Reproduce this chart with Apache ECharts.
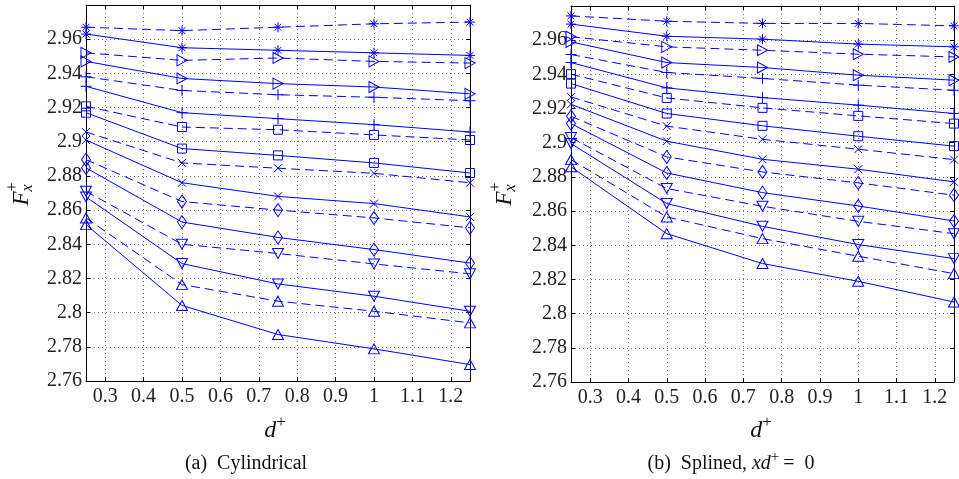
<!DOCTYPE html>
<html>
<head>
<meta charset="utf-8">
<script src="https://cdn.jsdelivr.net/npm/echarts@6/dist/echarts.min.js"></script>
<style>
html,body{margin:0;padding:0;background:#fff;}
#main{width:959px;height:479px;}
</style>
</head>
<body>
<div id="main"></div>
<script>
// ---- data ----
const dPlus = [0.25, 0.5, 0.75, 1.0, 1.25];
const yTickMin = 2.76, yTickMax = 2.98, yStep = 0.02;
const xTickMin = 0.25, xTickMax = 1.25, xStep = 0.1;

// (a) Cylindrical
const cylStarDash    = [2.967, 2.965, 2.967, 2.969, 2.970];
const cylStarSolid   = [2.963, 2.955, 2.9535, 2.952, 2.9505];
const cylTriRDash    = [2.952, 2.9476, 2.949, 2.947, 2.946];
const cylTriRSolid   = [2.947, 2.937, 2.934, 2.932, 2.928];
const cylPlusDash    = [2.938, 2.930, 2.9275, 2.926, 2.924];
const cylPlusSolid   = [2.9324, 2.917, 2.9135, 2.910, 2.9057];
const cylSqDash      = [2.9207, 2.9086, 2.907, 2.904, 2.901];
const cylSqSolid     = [2.917, 2.896, 2.892, 2.8876, 2.8817];
const cylXDash       = [2.9057, 2.8876, 2.8845, 2.8815, 2.876];
const cylXSolid      = [2.901, 2.876, 2.868, 2.8638, 2.856];
const cylDiaDash     = [2.8895, 2.865, 2.860, 2.8554, 2.8496];
const cylDiaSolid    = [2.8847, 2.853, 2.844, 2.8369, 2.829];
const cylTriDDash    = [2.871, 2.840, 2.8346, 2.8285, 2.8227];
const cylTriDSolid   = [2.8677, 2.8287, 2.8168, 2.8096, 2.8008];
const cylTriUDash    = [2.8554, 2.8164, 2.8067, 2.8008, 2.794];
const cylTriUSolid   = [2.8515, 2.8042, 2.7872, 2.7788, 2.7696];

// (b) Splined, xd+ = 0
const splStarDash    = [2.9742, 2.9711, 2.9698, 2.9698, 2.9684];
const splStarSolid   = [2.9694, 2.9623, 2.9606, 2.9577, 2.9561];
const splTriRDash    = [2.962, 2.9561, 2.9541, 2.9518, 2.9502];
const splTriRSolid   = [2.959, 2.9469, 2.944, 2.9395, 2.9366];
const splPlusDash    = [2.9516, 2.9411, 2.9376, 2.9337, 2.9307];
const splPlusSolid   = [2.9469, 2.9321, 2.9264, 2.922, 2.9171];
const splSqDash      = [2.9401, 2.9262, 2.9204, 2.9157, 2.9112];
const splSqSolid     = [2.9346, 2.9171, 2.9099, 2.9038, 2.898];
const splXDash       = [2.9268, 2.9097, 2.902, 2.8962, 2.8901];
const splXSolid      = [2.9225, 2.9009, 2.8903, 2.8845, 2.8771];
const splDiaDash     = [2.9155, 2.8917, 2.8829, 2.8765, 2.8693];
const splDiaSolid    = [2.9112, 2.8823, 2.8708, 2.863, 2.8542];
const splTriDDash    = [2.903, 2.8732, 2.8628, 2.854, 2.8468];
const splTriDSolid   = [2.8995, 2.8644, 2.8511, 2.8404, 2.8322];
const splTriUDash    = [2.8901, 2.8566, 2.8439, 2.8336, 2.8234];
const splTriUSolid   = [2.8859, 2.8468, 2.8293, 2.8189, 2.8068];

const subCaptionA = '(a)  Cylindrical';

// ---- styles ----
const BLUE = '#0000ff';
const SYM = {
  star:  {symbol: 'path://M5,0L5,10M0,5L10,5M1.6,1.6L8.4,8.4M1.6,8.4L8.4,1.6', size: [10, 10]},
  triR:  {symbol: 'path://M0,0L10,5L0,10Z', size: [10, 11]},
  plus:  {symbol: 'path://M5,0L5,10M0,5L10,5', size: [11, 11]},
  sq:    {symbol: 'path://M0,0L10,0L10,10L0,10Z', size: [9, 9]},
  x:     {symbol: 'path://M0,0L10,10M0,10L10,0', size: [8, 8]},
  dia:   {symbol: 'path://M5,0L10,5L5,10L0,5Z', size: [9, 13]},
  triD:  {symbol: 'path://M0,0L10,0L5,9Z', size: [11, 10]},
  triU:  {symbol: 'path://M5,0L10,9L0,9Z', size: [11, 10]}
};

const cylSets = [
  ['star', cylStarDash, true], ['star', cylStarSolid, false],
  ['triR', cylTriRDash, true], ['triR', cylTriRSolid, false],
  ['plus', cylPlusDash, true], ['plus', cylPlusSolid, false],
  ['sq', cylSqDash, true], ['sq', cylSqSolid, false],
  ['x', cylXDash, true], ['x', cylXSolid, false],
  ['dia', cylDiaDash, true], ['dia', cylDiaSolid, false],
  ['triD', cylTriDDash, true], ['triD', cylTriDSolid, false],
  ['triU', cylTriUDash, true], ['triU', cylTriUSolid, false]
];
const splSets = [
  ['star', splStarDash, true], ['star', splStarSolid, false],
  ['triR', splTriRDash, true], ['triR', splTriRSolid, false],
  ['plus', splPlusDash, true], ['plus', splPlusSolid, false],
  ['sq', splSqDash, true], ['sq', splSqSolid, false],
  ['x', splXDash, true], ['x', splXSolid, false],
  ['dia', splDiaDash, true], ['dia', splDiaSolid, false],
  ['triD', splTriDDash, true], ['triD', splTriDSolid, false],
  ['triU', splTriUDash, true], ['triU', splTriUSolid, false]
];

function mkSeries(sets, axisIdx) {
  return sets.map(function (s) {
    const sym = SYM[s[0]];
    return {
      type: 'line',
      xAxisIndex: axisIdx, yAxisIndex: axisIdx,
      data: dPlus.map(function (d, k) { return [d, s[1][k]]; }),
      symbol: sym.symbol, symbolSize: sym.size,
      showAllSymbol: true, clip: false, silent: true, animation: false,
      lineStyle: {color: BLUE, width: 1, type: s[2] ? [9, 5] : 'solid'},
      itemStyle: {color: 'rgba(0,0,0,0)', borderColor: BLUE, borderWidth: 1},
      z: 3
    };
  });
}

const FONT = 'Liberation Serif';
const GRIDS = [
  {left: 86, top: 5, width: 384, height: 376},
  {left: 571, top: 6, width: 383, height: 376}
];

function xAxisMain(gi) {
  return {
    type: 'value', gridIndex: gi, position: 'bottom',
    min: xTickMin, max: xTickMax, splitNumber: 10, minInterval: xStep, maxInterval: xStep,
    axisLine: {show: true, lineStyle: {color: '#000', width: 1}},
    axisTick: {show: true, inside: true, length: 4, lineStyle: {color: '#000'}},
    axisLabel: {show: true, margin: 6, fontFamily: FONT, fontSize: 20, color: '#222',
      showMinLabel: false, showMaxLabel: false},
    splitLine: {show: true, lineStyle: {color: '#777', type: [1, 3], width: 1}}
  };
}
function xAxisTop(gi) {
  return {
    type: 'value', gridIndex: gi, position: 'top',
    min: xTickMin, max: xTickMax, splitNumber: 10, minInterval: xStep, maxInterval: xStep,
    axisLine: {show: true, onZero: false, lineStyle: {color: '#000', width: 1}},
    axisTick: {show: true, inside: true, length: 4, lineStyle: {color: '#000'}},
    axisLabel: {show: false}, splitLine: {show: false}
  };
}
function yAxisMain(gi) {
  return {
    type: 'value', gridIndex: gi, position: 'left',
    min: yTickMin, max: yTickMax, splitNumber: 11, minInterval: yStep, maxInterval: yStep,
    axisLine: {show: true, lineStyle: {color: '#000', width: 1}},
    axisTick: {show: true, inside: true, length: 4, lineStyle: {color: '#000'}},
    axisLabel: {show: true, margin: 4, fontFamily: FONT, fontSize: 20, color: '#222',
      showMaxLabel: false},
    splitLine: {show: true, lineStyle: {color: '#777', type: [1, 3], width: 1}}
  };
}
function yAxisRight(gi) {
  return {
    type: 'value', gridIndex: gi, position: 'right',
    min: yTickMin, max: yTickMax, splitNumber: 11, minInterval: yStep, maxInterval: yStep,
    axisLine: {show: true, onZero: false, lineStyle: {color: '#000', width: 1}},
    axisTick: {show: true, inside: true, length: 4, lineStyle: {color: '#000'}},
    axisLabel: {show: false}, splitLine: {show: false}
  };
}

// text runs with sub/superscripts, measured via canvas
const measureCtx = document.createElement('canvas').getContext('2d');
function textRun(cx, cy, runs, rotation) {
  const widths = runs.map(function (r) {
    measureCtx.font = (r.italic ? 'italic ' : '') + r.size + 'px "' + FONT + '"';
    return r.noAdvance ? 0 : measureCtx.measureText(r.text).width + (r.gap || 0);
  });
  const total = widths.reduce(function (a, b) { return a + b; }, 0);
  let x = -total / 2;
  const children = runs.map(function (r, i) {
    const el = {
      type: 'text', x: x + (r.dx || 0), y: (r.dy || 0),
      style: {text: r.text, fontFamily: FONT, fontSize: r.size,
        fontStyle: r.italic ? 'italic' : 'normal', fill: '#111',
        textAlign: 'left', textVerticalAlign: 'middle'}
    };
    x += widths[i];
    return el;
  });
  return {type: 'group', x: cx, y: cy, rotation: rotation || 0, children: children, silent: true};
}

const graphics = [
  textRun(22, 194, [
    {text: 'F', size: 23, italic: true},
    {text: 'x', size: 16, italic: true, dy: 6, noAdvance: true},
    {text: '+', size: 16, dy: -9}
  ], Math.PI / 2),
  textRun(505, 194, [
    {text: 'F', size: 23, italic: true},
    {text: 'x', size: 16, italic: true, dy: 6, noAdvance: true},
    {text: '+', size: 16, dy: -9}
  ], Math.PI / 2),
  textRun(275, 431, [
    {text: 'd', size: 24, italic: true},
    {text: '+', size: 17, dy: -8}
  ]),
  textRun(761, 431, [
    {text: 'd', size: 24, italic: true},
    {text: '+', size: 17, dy: -8}
  ]),
  textRun(246, 464, [{text: subCaptionA, size: 20}]),
  textRun(731, 464, [
    {text: '(b)  Splined, ', size: 20},
    {text: 'xd', size: 20, italic: true},
    {text: '+', size: 15, dy: -7, gap: 4},
    {text: '=  0', size: 20}
  ])
];

const chart = echarts.init(document.getElementById('main'), null, {renderer: 'canvas'});
chart.setOption({
  backgroundColor: '#fff',
  animation: false,
  grid: GRIDS,
  xAxis: [xAxisMain(0), xAxisTop(0), xAxisMain(1), xAxisTop(1)].map(function (a, i) {
    a.gridIndex = i < 2 ? 0 : 1; return a;
  }),
  yAxis: [yAxisMain(0), yAxisRight(0), yAxisMain(1), yAxisRight(1)].map(function (a, i) {
    a.gridIndex = i < 2 ? 0 : 1; return a;
  }),
  series: mkSeries(cylSets, 0).concat(mkSeries(splSets, 2)),
  graphic: graphics
});
</script>
</body>
</html>
